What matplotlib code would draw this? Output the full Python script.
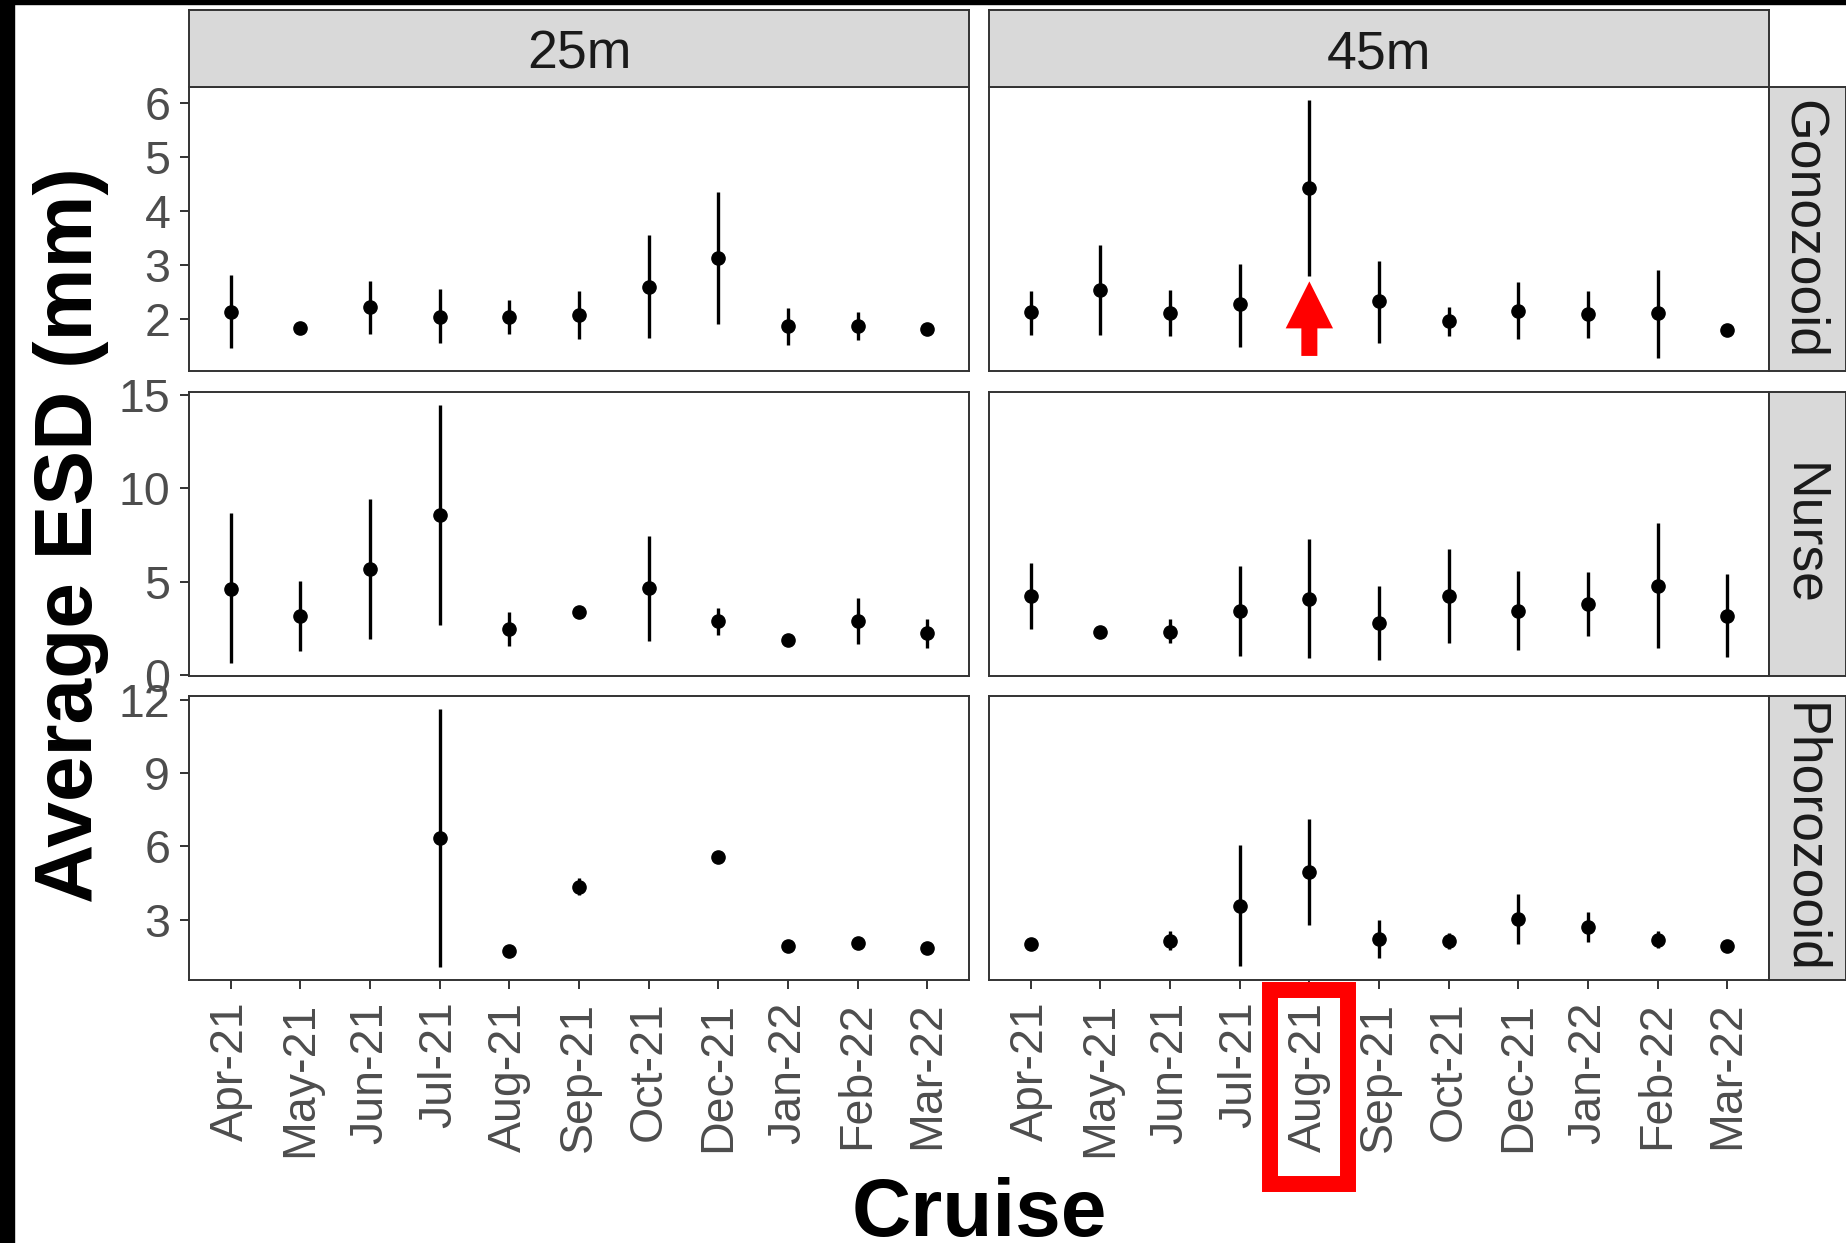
import numpy as np
import matplotlib
matplotlib.use('Agg')
import matplotlib.pyplot as plt
from matplotlib.patches import Rectangle, FancyArrow
from matplotlib.transforms import blended_transform_factory

nan = np.nan

cruises = ['Apr-21', 'May-21', 'Jun-21', 'Jul-21', 'Aug-21', 'Sep-21',
           'Oct-21', 'Dec-21', 'Jan-22', 'Feb-22', 'Mar-22']
depths = ['25m', '45m']
stages = ['Gonozooid', 'Nurse', 'Phorozooid']

# mean ESD with lower / upper bounds (mm)
gono_25_mean = [2.13, 1.83, 2.22, 2.05, 2.04, 2.08, 2.60, 3.13, 1.87, 1.87, 1.82]
gono_25_lo = [1.47, nan, 1.72, 1.56, 1.73, 1.64, 1.66, 1.91, 1.53, 1.62, nan]
gono_25_hi = [2.81, nan, 2.70, 2.55, 2.35, 2.52, 3.56, 4.35, 2.21, 2.13, nan]

gono_45_mean = [2.13, 2.54, 2.12, 2.28, 4.43, 2.33, 1.97, 2.16, 2.10, 2.11, 1.80]
gono_45_lo = [1.70, 1.71, 1.68, 1.48, 2.80, 1.56, 1.68, 1.63, 1.66, 1.28, nan]
gono_45_hi = [2.53, 3.37, 2.54, 3.03, 6.06, 3.08, 2.22, 2.68, 2.52, 2.92, nan]

nurse_25_mean = [4.62, 3.18, 5.66, 8.59, 2.48, 3.36, 4.64, 2.87, 1.87, 2.89, 2.23]
nurse_25_lo = [0.64, 1.30, 1.91, 2.68, 1.57, nan, 1.84, 2.14, nan, 1.64, 1.46]
nurse_25_hi = [8.66, 5.05, 9.41, 14.48, 3.36, nan, 7.44, 3.57, nan, 4.11, 3.00]

nurse_45_mean = [4.25, 2.32, 2.32, 3.45, 4.09, 2.79, 4.23, 3.45, 3.80, 4.79, 3.16]
nurse_45_lo = [2.45, nan, 1.73, 1.04, 0.89, 0.80, 1.70, 1.34, 2.09, 1.43, 0.95]
nurse_45_hi = [6.03, nan, 2.98, 5.84, 7.27, 4.77, 6.75, 5.57, 5.50, 8.13, 5.39]

phoro_25_mean = [nan, nan, nan, 6.33, 1.73, 4.35, nan, 5.55, 1.91, 2.05, 1.82]
phoro_25_lo = [nan, nan, nan, 1.05, nan, 4.01, nan, nan, nan, nan, nan]
phoro_25_hi = [nan, nan, nan, 11.64, nan, 4.71, nan, nan, nan, nan, nan]

phoro_45_mean = [2.00, nan, 2.14, 3.57, 4.94, 2.21, 2.11, 3.03, 2.68, 2.18, 1.91]
phoro_45_lo = [nan, nan, 1.76, 1.09, 2.78, 1.43, 1.78, 1.98, 2.09, 1.82, nan]
phoro_45_hi = [nan, nan, 2.52, 6.06, 7.13, 2.99, 2.44, 4.05, 3.29, 2.55, nan]

yticks = [[2, 3, 4, 5, 6], [0, 5, 10, 15], [3, 6, 9, 12]]

data = {
    ('Gonozooid', '25m'): (gono_25_mean, gono_25_lo, gono_25_hi),
    ('Gonozooid', '45m'): (gono_45_mean, gono_45_lo, gono_45_hi),
    ('Nurse', '25m'): (nurse_25_mean, nurse_25_lo, nurse_25_hi),
    ('Nurse', '45m'): (nurse_45_mean, nurse_45_lo, nurse_45_hi),
    ('Phorozooid', '25m'): (phoro_25_mean, phoro_25_lo, phoro_25_hi),
    ('Phorozooid', '45m'): (phoro_45_mean, phoro_45_lo, phoro_45_hi),
}

# highlighted cruise in the 45m panels
flag_cruise = 'Aug-21'
arrow_tip, arrow_base = 2.70, 1.32

plt.rcParams['font.family'] = ['Liberation Sans', 'DejaVu Sans']

W, H = 1846, 1243
fig = plt.figure(figsize=(W / 100, H / 100), dpi=100)

def px_axes(x0, y0, w, h):
    return fig.add_axes([x0 / W, 1 - (y0 + h) / H, w / W, h / H])

def strip_axes(x0, y0, w, h):
    s = px_axes(x0, y0, w, h)
    s.set_facecolor('#D9D9D9')
    s.set_xticks([]); s.set_yticks([])
    for sp in s.spines.values():
        sp.set_color(edge); sp.set_linewidth(1.4)
    return s

edge = '#333333'
col_x = [189, 989]
row_y = [87, 392, 696]
pw, ph = 780, 284
strip = 77
x = np.arange(len(cruises))

axes = {}
for r, st in enumerate(stages):
    vals = []
    for d in depths:
        m, lo, hi = data[(st, d)]
        vals += list(m) + list(lo) + list(hi)
    vmin, vmax = np.nanmin(vals), np.nanmax(vals)
    pad = 0.05 * (vmax - vmin)
    for c, d in enumerate(depths):
        ax = px_axes(col_x[c], row_y[r], pw, ph)
        axes[(r, c)] = ax
        m, lo, hi = [np.array(v, dtype=float) for v in data[(st, d)]]
        ax.vlines(x, lo, hi, color='black', lw=2.4, zorder=3)
        ax.plot(x, m, 'o', color='black', ms=9.5, zorder=4)
        ax.set_xlim(-0.6, len(cruises) - 0.4)
        ax.set_ylim(vmin - pad, vmax + pad)
        ax.set_yticks(yticks[r])
        ax.set_xticks(x)
        for s in ax.spines.values():
            s.set_color(edge)
            s.set_linewidth(1.4)
        ax.tick_params(length=6.5, width=1.4, color=edge, labelcolor='#4D4D4D',
                       labelsize=33.5)
        ax.tick_params(axis='y', pad=7)
        ax.tick_params(axis='x', pad=9)
        if c == 1:
            ax.tick_params(axis='y', left=False, labelleft=False)
        if r < 2:
            ax.tick_params(axis='x', bottom=False, labelbottom=False)
        else:
            ax.set_xticklabels(cruises, rotation=90)

# facet strips
for c, d in enumerate(depths):
    s = strip_axes(col_x[c], row_y[0] - strip, pw, strip)
    s.text(0.5, 0.245, d, ha='center', va='baseline', fontsize=38.5,
           color='#1A1A1A', transform=s.transAxes)
for r, st in enumerate(stages):
    s = strip_axes(col_x[1] + pw, row_y[r], strip, ph)
    s.text(0.26, 0.5, st, ha='center', va='baseline', rotation=-90,
           rotation_mode='anchor', fontsize=38.5, color='#1A1A1A',
           transform=s.transAxes)

# red arrow pointing at the flagged cruise
ax = axes[(0, 1)]
xi = cruises.index(flag_cruise)
ax.add_patch(FancyArrow(xi, arrow_base, 0, arrow_tip - arrow_base, width=0.23,
                        head_width=0.68, head_length=0.87, length_includes_head=True,
                        color='red', lw=0, zorder=5))

# box round its tick label
ax = axes[(2, 1)]
tr = blended_transform_factory(ax.transData, fig.transFigure)
fig.patches.append(Rectangle((xi - 0.56, 1 - 1184 / H), 1.12, 194 / H, transform=tr,
                             fill=False, edgecolor='red', lw=11.5, figure=fig))

fig.text(979 / W, 1 - 1236 / H, 'Cruise', ha='center', va='baseline',
         fontsize=59, fontweight='bold')
fig.text(92 / W, 1 - 535 / H, 'Average ESD (mm)', ha='center', va='baseline',
         rotation=90, rotation_mode='anchor', fontsize=59, fontweight='bold')

# dark frame on the top and left edges
fig.patches.append(Rectangle((0, 0), 14 / W, 1, transform=fig.transFigure,
                             color='black', figure=fig))
fig.patches.append(Rectangle((0, 1 - 4 / H), 1, 4 / H, transform=fig.transFigure,
                             color='black', figure=fig))

fig.savefig('out.png', dpi=100)
